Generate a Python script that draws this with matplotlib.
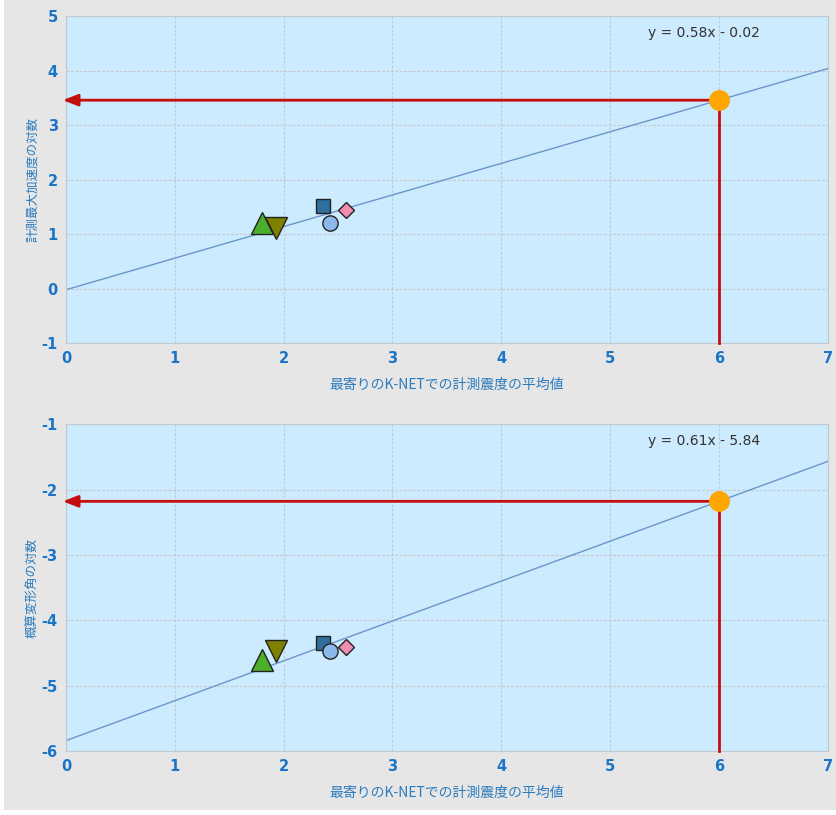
import numpy as np
import matplotlib.pyplot as plt
from matplotlib.patches import Rectangle

plt.rcParams['font.family'] = ['Noto Sans CJK JP', 'DejaVu Sans']
plt.rcParams['axes.unicode_minus'] = False

# data
xs = [2.36, 2.43, 2.57, 1.80, 1.93]
y_acc = [1.52, 1.21, 1.44, 1.21, 1.11]
y_ang = [-4.35, -4.47, -4.41, -4.61, -4.47]
markers = ['s', 'o', 'D', '^', 'v']
colors = ['#2f6f9f', '#8cb9e9', '#f28db2', '#4caf2c', '#808000']
sizes = [10, 11, 8, 16, 16]

fits = [(0.58, -0.02), (0.61, -5.84)]
ylims = [(-1, 5), (-6, -1)]
ylabels = ['計測最大加速度の対数', '概算変形角の対数']
xlabel = '最寄りのK-NETでの計測震度の平均値'
x_target = 6

fig = plt.figure(figsize=(8.37, 8.15), dpi=100, facecolor='white')
fig.patches.append(Rectangle((0.005, 0.006), 0.995, 0.994, transform=fig.transFigure,
                             facecolor='#e6e6e6', edgecolor='none', zorder=-10))

positions = [[0.0789, 0.579, 0.910, 0.401], [0.0789, 0.0785, 0.910, 0.401]]
tick_blue = '#1b75c6'

for i, ys in enumerate([y_acc, y_ang]):
    ax = fig.add_axes(positions[i])
    ax.set_facecolor('#cdebff')
    a, b = fits[i]
    ax.set_xlim(0, 7)
    ax.set_ylim(*ylims[i])
    ax.grid(True, color='#c4c8cc', linestyle=(0, (2.5, 1.5)), linewidth=0.8)
    ax.set_axisbelow(True)
    for s in ax.spines.values():
        s.set_color('#c0c8d0')

    xl = np.array([0, 7])
    ax.plot(xl, a * xl + b, color='#6a96c8', linewidth=1, zorder=2)

    yt = a * x_target + b
    ax.plot([x_target, x_target], [ylims[i][0], yt], color='#c40f0f', linewidth=2, zorder=3, clip_on=False)
    ax.annotate('', xy=(-0.03, yt), xytext=(x_target, yt),
                arrowprops=dict(arrowstyle='-|>,head_length=0.9,head_width=0.35',
                                color='#c40f0f', lw=2, shrinkA=0, shrinkB=0),
                annotation_clip=False, zorder=3)
    ax.plot(x_target, yt, 'o', color='#ffa500', markersize=14, zorder=5)

    for x, y, m, c, ms in zip(xs, ys, markers, colors, sizes):
        ax.plot(x, y, marker=m, color=c, markersize=ms, markeredgecolor='#222222',
                markeredgewidth=1, linestyle='none', zorder=4)

    ax.text(0.911, 0.948, 'y = %.2fx - %.2f' % (a, abs(b)), transform=ax.transAxes,
            ha='right', va='center', fontsize=10, color='#333333', family='DejaVu Sans')

    ax.set_xticks(range(0, 8))
    ax.set_yticks(range(ylims[i][0], ylims[i][1] + 1))
    ax.tick_params(length=0, pad=6, labelcolor=tick_blue)
    for lab in ax.get_xticklabels() + ax.get_yticklabels():
        lab.set_fontweight('bold')
        lab.set_family('DejaVu Sans')
        lab.set_fontsize(10.5)
    ax.set_xlabel(xlabel, color='#2b7bbd', fontsize=10, labelpad=8)
    ax.set_ylabel(ylabels[i], color='#2b7bbd', fontsize=9, labelpad=2)

fig.savefig('out.png', dpi=100)
